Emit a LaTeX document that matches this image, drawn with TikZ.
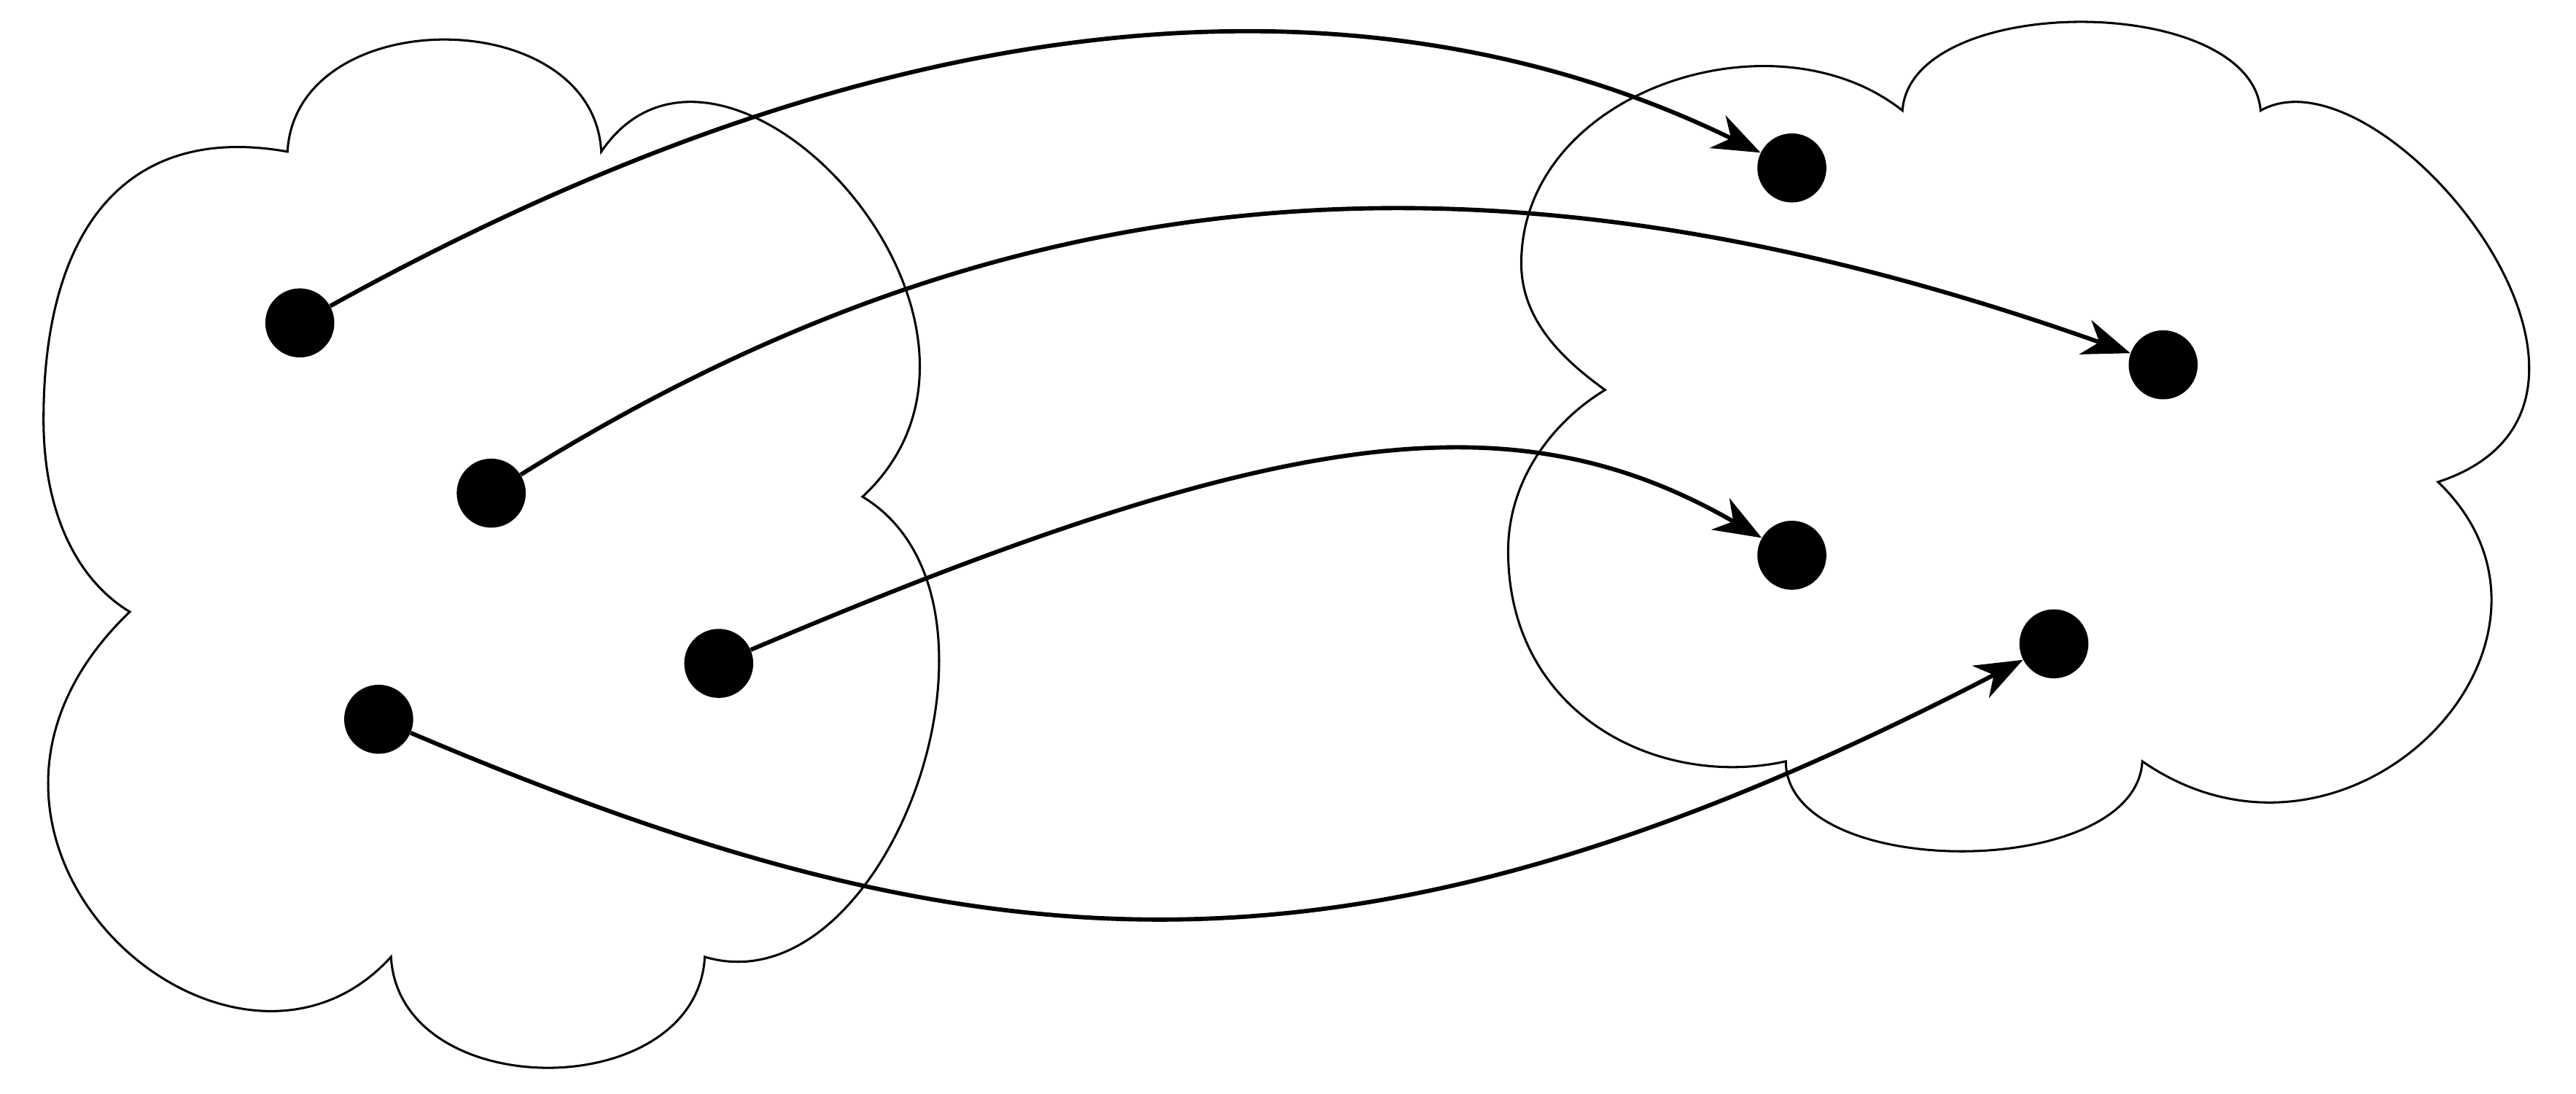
\documentclass[tikz,border=0pt]{standalone}
\usetikzlibrary{arrows.meta}
\begin{document}
\begin{tikzpicture}[x=1pt,y=1pt,
  cloudline/.style={line width=1.35pt, line join=miter},
  dot/.style={circle, fill=black, inner sep=0pt, minimum size=42pt},
  conn/.style={line width=2.6pt, -{Stealth[length=29pt,width=22pt,inset=9pt]}}]
\useasboundingbox (0,0) rectangle (1568,665.3);
% left cloud
\draw[cloudline] (175,573) .. controls (180,664) and (361,664) .. (366,573)
 .. controls (440,682) and (640,470) .. (525,363)
 .. controls (630,300) and (540,50) .. (429,83)
 .. controls (424,-7) and (243,-7) .. (238,83)
 .. controls (140,-25) and (-65,155) .. (79,293)
 .. controls (49,311) and (26.5,350) .. (26.5,410)
 .. controls (26.5,530) and (80,590) .. cycle;
% right cloud
\draw[cloudline] (1158,598) .. controls (1163,670) and (1370,670) .. (1376,598)
 .. controls (1450,640) and (1630,420) .. (1484,372)
 .. controls (1585,275) and (1430,115) .. (1304,202)
 .. controls (1300,129) and (1087,129) .. (1087,202)
 .. controls (1010,185) and (918,230) .. (918,330)
 .. controls (918,375) and (947,410) .. (977,428)
 .. controls (952,446) and (926,470) .. (926,505)
 .. controls (926,610) and (1080,660) .. cycle;
% dots
\node[dot] (L1) at (182.5,468.8) {};
\node[dot] (L2) at (299,365.2) {};
\node[dot] (L3) at (437.5,261.6) {};
\node[dot] (L4) at (230.5,227.6) {};
\node[dot] (R1) at (1090.7,563.1) {};
\node[dot] (R2) at (1316.7,443.3) {};
\node[dot] (R3) at (1090.7,327.4) {};
\node[dot] (R4) at (1250.2,273.5) {};
% connectors
\draw[conn] (L1) to[out=29,in=154,out distance=435pt,in distance=232pt] (R1);
\draw[conn] (L2) to[out=32,in=160.5,out distance=360pt,in distance=400pt] (R2);
\draw[conn] (L3) to[out=23,in=150,out distance=352pt,in distance=173pt] (R3);
\draw[conn] (L4) to[out=-23,in=207.4,out distance=381pt,in distance=457pt] (R4);
\end{tikzpicture}
\end{document}
